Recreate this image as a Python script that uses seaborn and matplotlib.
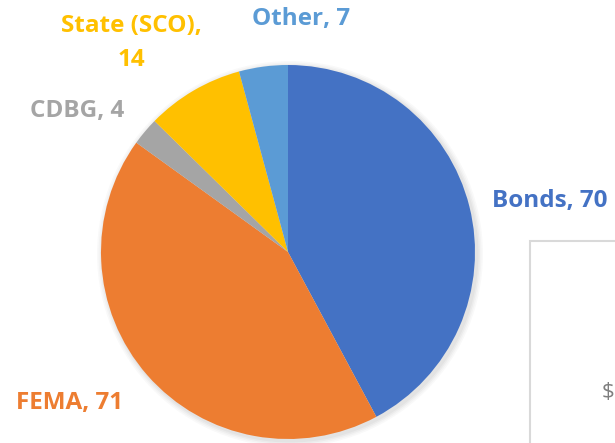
import matplotlib
matplotlib.use("Agg")
import matplotlib.pyplot as plt
from matplotlib.patches import Rectangle, Circle
import seaborn as sns

# Funding sources (values shown on the labels)
sources = ["Bonds", "FEMA", "CDBG", "State (SCO)", "Other"]
amounts = [70, 71, 4, 14, 7]
label_text = ["Bonds, 70", "FEMA, 71", "CDBG, 4", "State (SCO),\n14", "Other, 7"]

sns.set_theme(style="white")
plt.rcParams['font.family'] = ['Open Sans', 'DejaVu Sans']

colors = ["#4472C4", "#ED7D31", "#A5A5A5", "#FFC000", "#5B9BD5"]

W, H = 615, 443
fig = plt.figure(figsize=(W / 100, H / 100), dpi=100)
ax = fig.add_axes([0, 0, 1, 1])

cx, cy, r = 288, H - 252, 187

# soft shadow under the pie
for k, a in enumerate([0.025, 0.025, 0.03, 0.03]):
    ax.add_patch(Circle((cx + 2, cy - 2), r + 6 - 1.5 * k, color="black", alpha=a, lw=0, zorder=1))

wedges, _ = ax.pie(amounts, colors=colors, startangle=90, counterclock=False,
                   center=(cx, cy), radius=r, frame=True,
                   wedgeprops=dict(linewidth=0, zorder=2))
ax.set_xlim(0, W)
ax.set_ylim(0, H)
ax.set_aspect("equal")
ax.axis("off")

# label positions (pixel coords, y from top)
pos = {"Bonds": (550, 201), "FEMA": (70, 403), "CDBG": (77, 111),
       "State (SCO)": (131, 43), "Other": (301, 19)}
for name, txt, col in zip(sources, label_text, colors):
    x, y = pos[name]
    ax.text(x, H - y, txt, color=col, fontsize=17.5, fontweight="bold",
            ha="center", va="center", linespacing=1.6, zorder=5)

# edge of the neighbouring chart
ax.add_patch(Rectangle((530, -20), 200, H - 241 + 20, fill=False,
                       edgecolor="#D9D9D9", linewidth=1.5, zorder=3))
ax.text(608, H - 393, "$", color="#7F7F7F", fontsize=16, ha="center", va="center")

fig.savefig("out.png", dpi=100)
